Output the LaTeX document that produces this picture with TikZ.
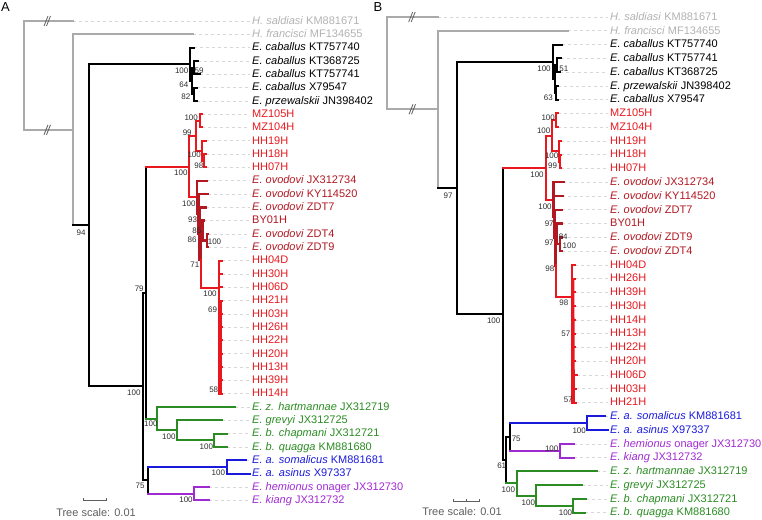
\documentclass[tikz,border=0pt]{standalone}
\usepackage{fontspec}
\setmainfont{Liberation Sans}
\usetikzlibrary{calc}
\definecolor{hipgray}{RGB}{170,170,170}
\definecolor{hiptext}{RGB}{178,178,178}
\definecolor{redclade}{RGB}{232,24,30}
\definecolor{ovored}{RGB}{178,24,34}
\definecolor{greenclade}{RGB}{42,140,34}
\definecolor{blueclade}{RGB}{26,26,220}
\definecolor{purpclade}{RGB}{160,42,210}
\definecolor{leadgray}{RGB}{215,215,215}
\definecolor{bootgray}{RGB}{45,45,45}
\definecolor{scalegray}{RGB}{95,95,95}
\tikzset{
  br/.style={line width=2pt,line cap=rect},
  hipbr/.style={draw=hipgray},
  cabbr/.style={draw=black},
  hhbr/.style={draw=redclade},
  ovobr/.style={draw=ovored,line width=2.4pt},
  zebbr/.style={draw=greenclade},
  assbr/.style={draw=blueclade},
  kiabr/.style={draw=purpclade},
  tip/.style={anchor=west,inner xsep=2pt,inner ysep=0pt,font=\fontsize{11}{11}\selectfont,text height=8pt,text depth=1.5pt},
  leader/.style={draw=leadgray,dash pattern=on 3pt off 3pt,line width=0.6pt},
  boot/.style={font=\fontsize{8}{8}\selectfont,text=bootgray,inner sep=0pt},
  brk/.style={draw=scalegray,line width=0.8pt},
  letter/.style={font=\fontsize{13}{13}\selectfont,inner sep=0pt}
}
\begin{document}
\begin{tikzpicture}[x=1pt,y=-1pt]
\useasboundingbox (0,0) rectangle (762,519);
%panel letters
\node[letter] (a-letter) at (5.5,7.5) {A};
\node[letter] (b-letter) at (378,7.5) {B};

%panel A tips
\foreach \i/\x/\col/\lab in {
  0/73/hiptext/{\textit{H. saldiasi} KM881671},
  1/193/hiptext/{\textit{H. francisci} MF134655},
  2/194/black/{\textit{E. caballus} KT757740},
  3/198/black/{\textit{E. caballus} KT368725},
  4/200/black/{\textit{E. caballus} KT757741},
  5/197/black/{\textit{E. caballus} X79547},
  6/197/black/{\textit{E. przewalskii} JN398402},
  7/202/redclade/MZ105H,
  8/202/redclade/MZ104H,
  9/206/redclade/HH19H,
  10/206/redclade/HH18H,
  11/206/redclade/HH07H,
  12/206.7/ovored/{\textit{E. ovodovi} JX312734},
  13/207.7/ovored/{\textit{E. ovodovi} KY114520},
  14/206/ovored/{\textit{E. ovodovi} ZDT7},
  15/204/ovored/BY01H,
  16/208/ovored/{\textit{E. ovodovi} ZDT4},
  17/208/ovored/{\textit{E. ovodovi} ZDT9},
  18/222/redclade/HH04D,
  19/222/redclade/HH30H,
  20/222/redclade/HH06D,
  21/222/redclade/HH21H,
  22/222/redclade/HH03H,
  23/222/redclade/HH26H,
  24/222/redclade/HH22H,
  25/222/redclade/HH20H,
  26/222/redclade/HH13H,
  27/222/redclade/HH39H,
  28/222/redclade/HH14H,
  29/235/greenclade/{\textit{E. z. hartmannae} JX312719},
  30/222/greenclade/{\textit{E. grevyi} JX312725},
  31/226.7/greenclade/{\textit{E. b. chapmani} JX312721},
  32/226.7/greenclade/{\textit{E. b. quagga} KM881680},
  33/245.7/blueclade/{\textit{E. a. somalicus} KM881681},
  34/250/blueclade/{\textit{E. a. asinus} X97337},
  35/209.3/purpclade/{\textit{E. hemionus} onager JX312730},
  36/209.3/purpclade/{\textit{E. kiang} JX312732}}{
  \coordinate (a-e\i) at (\x,{21+13.31*\i});
  \node[tip,text=\col] (a-t\i) at (250,{21+13.31*\i}) {\lab};
  \draw[leader] (a-e\i) -- (a-t\i.west);
}

%panel A inner nodes
\coordinate (a-root) at (24,75.4);
\coordinate (a-hip) at (73,129.8);
\coordinate (a-equ) at (89,225.3);
\coordinate (a-cab) at (190,64.25);
\coordinate (a-cabx) at (191.5,80.9);
\coordinate (a-cab1) at (193.5,67.55);
\coordinate (a-cab2) at (193.5,94.25);
\coordinate (a-n3) at (143,386.4);
\coordinate (a-n4) at (145.7,292.6);
\coordinate (a-n5) at (147.7,480.2);
\coordinate (a-red) at (189.3,166.5);
\coordinate (a-a1) at (195.7,135.85);
\coordinate (a-mz) at (200,120.85);
\coordinate (a-h1) at (202.3,150.8);
\coordinate (a-h2) at (204,160.75);
\coordinate (a-o0) at (197,197.2);
\coordinate (a-o1) at (198.5,213.7);
\coordinate (a-o2) at (199.5,233.4);
\coordinate (a-o3) at (201,259.5);
\coordinate (a-o4) at (202.5,230.7);
\coordinate (a-o5) at (206.7,240.65);
\coordinate (a-hh) at (219,288.3);
\coordinate (a-g0) at (157,418.7);
\coordinate (a-g1) at (176.7,430.3);
\coordinate (a-g2) at (214.3,440.25);
\coordinate (a-bl) at (226.7,466.85);
\coordinate (a-pu) at (194.3,493.55);

%panel A branches
\foreach \p/\ch/\pc/\cc in {
  a-root/a-e0/hipbr/hipbr, a-root/a-hip/hipbr/hipbr,
  a-hip/a-e1/hipbr/hipbr, a-hip/a-equ/hipbr/cabbr,
  a-equ/a-cab/cabbr/cabbr, a-equ/a-n3/cabbr/cabbr,
  a-cab/a-e2/cabbr/cabbr, a-cab/a-cabx/cabbr/cabbr,
  a-cabx/a-cab1/cabbr/cabbr, a-cabx/a-cab2/cabbr/cabbr,
  a-cab1/a-e3/cabbr/cabbr, a-cab1/a-e4/cabbr/cabbr,
  a-cab2/a-e5/cabbr/cabbr, a-cab2/a-e6/cabbr/cabbr,
  a-n3/a-n4/cabbr/cabbr, a-n3/a-n5/cabbr/cabbr,
  a-n4/a-red/cabbr/hhbr, a-n4/a-g0/cabbr/zebbr,
  a-n5/a-bl/cabbr/assbr, a-n5/a-pu/cabbr/kiabr,
  a-red/a-a1/hhbr/hhbr, a-red/a-o0/hhbr/hhbr,
  a-a1/a-mz/hhbr/hhbr, a-a1/a-h1/hhbr/hhbr,
  a-mz/a-e7/hhbr/hhbr, a-mz/a-e8/hhbr/hhbr,
  a-h1/a-e9/hhbr/hhbr, a-h1/a-h2/hhbr/hhbr,
  a-h2/a-e10/hhbr/hhbr, a-h2/a-e11/hhbr/hhbr,
  a-o0/a-e12/ovobr/ovobr, a-o0/a-o1/ovobr/ovobr,
  a-o1/a-e13/ovobr/ovobr, a-o1/a-o2/ovobr/ovobr,
  a-o2/a-e14/ovobr/ovobr, a-o2/a-o3/ovobr/ovobr,
  a-o3/a-o4/ovobr/ovobr, a-o3/a-hh/hhbr/hhbr,
  a-o4/a-e15/ovobr/ovobr, a-o4/a-o5/ovobr/ovobr,
  a-o5/a-e16/ovobr/ovobr, a-o5/a-e17/ovobr/ovobr,
  a-g0/a-e29/zebbr/zebbr, a-g0/a-g1/zebbr/zebbr,
  a-g1/a-e30/zebbr/zebbr, a-g1/a-g2/zebbr/zebbr,
  a-g2/a-e31/zebbr/zebbr, a-g2/a-e32/zebbr/zebbr,
  a-bl/a-e33/assbr/assbr, a-bl/a-e34/assbr/assbr,
  a-pu/a-e35/kiabr/kiabr, a-pu/a-e36/kiabr/kiabr}{
  \draw[br,\pc] (\p) -- (\p |- \ch);
  \draw[br,\cc] (\p |- \ch) -- (\ch);
}
\foreach \k in {18,...,28}
  \draw[br,hhbr] (a-hh) |- (a-e\k);
\draw[hhbr,line width=2.8pt] ($(a-hh |- a-e21)+(1.2,0)$) -- ($(a-hh |- a-e28)+(1.2,0)$);

%breaks A
\coordinate (a-brk1) at (47,21);
\coordinate (a-brk2) at (47,129.8);
\foreach \b in {a-brk1,a-brk2}{
  \draw[brk] ([shift={(-3,5)}]\b) -- ++(4,-10);
  \draw[brk] ([shift={(-0.5,5)}]\b) -- ++(4,-10);
}

%bootstrap A
\foreach \x/\y/\v [count=\k] in {
  81/233/94, 181.7/70.7/100, 199/70.7/59, 183.8/85/64, 185.8/96.7/82,
  191.2/117.7/100, 187.2/132.3/99, 194.2/155/100, 198.8/165.7/98,
  180.8/172.7/100, 188.8/203.3/100, 192.5/220/93, 196.8/231/85,
  192/239.5/86, 214.5/241.7/100, 194.8/264.3/71, 139.2/289/79,
  210/294/100, 212.5/310/69, 213.7/390/58, 133.8/392.3/100,
  150.8/424/100, 168.8/436.7/100, 206.3/446.7/100, 218.3/472.7/100,
  140/485.7/75, 186/499.3/100}
  \node[boot] (a-bs\k) at (\x,\y) {\v};

%scale A
\coordinate (a-sc-l) at (83.3,500.7);
\coordinate (a-sc-r) at (106.7,500.7);
\draw[draw=scalegray,line width=0.9pt] ([yshift=2.5pt]a-sc-l) -- (a-sc-l) -- (a-sc-r) -- ([yshift=2.5pt]a-sc-r);
\node[text=scalegray,font=\fontsize{11}{11}\selectfont,inner sep=0pt] (a-scale) at (96,512.7) {Tree scale: 0.01};

%panel B tips
\foreach \i/\x/\col/\lab in {
  0/438.3/hiptext/{\textit{H. saldiasi} KM881671},
  1/567.7/hiptext/{\textit{H. francisci} MF134655},
  2/562/black/{\textit{E. caballus} KT757740},
  3/561/black/{\textit{E. caballus} KT757741},
  4/560/black/{\textit{E. caballus} KT368725},
  5/558/black/{\textit{E. przewalskii} JN398402},
  6/558/black/{\textit{E. caballus} X79547},
  7/558/redclade/MZ105H,
  8/558/redclade/MZ104H,
  9/561/redclade/HH19H,
  10/561/redclade/HH18H,
  11/561/redclade/HH07H,
  12/563.3/ovored/{\textit{E. ovodovi} JX312734},
  13/562.3/ovored/{\textit{E. ovodovi} KY114520},
  14/561.7/ovored/{\textit{E. ovodovi} ZDT7},
  15/561.7/ovored/BY01H,
  16/562/ovored/{\textit{E. ovodovi} ZDT9},
  17/562/ovored/{\textit{E. ovodovi} ZDT4},
  18/575/redclade/HH04D,
  19/575/redclade/HH26H,
  20/575/redclade/HH39H,
  21/575/redclade/HH30H,
  22/575/redclade/HH14H,
  23/575/redclade/HH13H,
  24/575/redclade/HH22H,
  25/575/redclade/HH20H,
  26/577/redclade/HH06D,
  27/576/redclade/HH03H,
  28/576/redclade/HH21H,
  29/605/blueclade/{\textit{E. a. somalicus} KM881681},
  30/607.7/blueclade/{\textit{E. a. asinus} X97337},
  31/574.3/purpclade/{\textit{E. hemionus} onager JX312730},
  32/574.3/purpclade/{\textit{E. kiang} JX312732},
  33/597.3/greenclade/{\textit{E. z. hartmannae} JX312719},
  34/581.7/greenclade/{\textit{E. grevyi} JX312725},
  35/586/greenclade/{\textit{E. b. chapmani} JX312721},
  36/585/greenclade/{\textit{E. b. quagga} KM881680}}{
  \coordinate (b-e\i) at (\x,{17+13.77*\i});
  \node[tip,text=\col] (b-t\i) at (608,{17+13.77*\i}) {\lab};
  \draw[leader] (b-e\i) -- (b-t\i.west);
}

%panel B inner nodes
\coordinate (b-root) at (387.3,63.15);
\coordinate (b-hip) at (438.3,109.3);
\coordinate (b-equ) at (457.3,187.85);
\coordinate (b-cab) at (553.3,61.75);
\coordinate (b-cabx) at (555,79);
\coordinate (b-cab1) at (556.7,65.2);
\coordinate (b-cab2) at (555.7,92.75);
\coordinate (b-n3) at (502.7,313.95);
\coordinate (b-red) at (545.7,167.7);
\coordinate (b-a1) at (551.7,135.8);
\coordinate (b-mz) at (556,120.3);
\coordinate (b-h1) at (558.5,151.25);
\coordinate (b-h2) at (559.5,161.6);
\coordinate (b-o0) at (553.3,199.5);
\coordinate (b-o1) at (554,216.8);
\coordinate (b-o2) at (555,237.6);
\coordinate (b-o3) at (556,265.3);
\coordinate (b-o4) at (557,233.9);
\coordinate (b-o5) at (560,244.2);
\coordinate (b-hh) at (571.7,296.7);
\coordinate (b-n61) at (506,460.2);
\coordinate (b-bp) at (510,437);
\coordinate (b-bl) at (586.7,423.2);
\coordinate (b-pu) at (560,450.75);
\coordinate (b-g0) at (516.7,483.45);
\coordinate (b-g1) at (536,495.5);
\coordinate (b-g2) at (573.3,505.85);

%panel B branches
\foreach \p/\ch/\pc/\cc in {
  b-root/b-e0/hipbr/hipbr, b-root/b-hip/hipbr/hipbr,
  b-hip/b-e1/hipbr/hipbr, b-hip/b-equ/hipbr/cabbr,
  b-equ/b-cab/cabbr/cabbr, b-equ/b-n3/cabbr/cabbr,
  b-cab/b-e2/cabbr/cabbr, b-cab/b-cabx/cabbr/cabbr,
  b-cabx/b-cab1/cabbr/cabbr, b-cabx/b-cab2/cabbr/cabbr,
  b-cab1/b-e3/cabbr/cabbr, b-cab1/b-e4/cabbr/cabbr,
  b-cab2/b-e5/cabbr/cabbr, b-cab2/b-e6/cabbr/cabbr,
  b-n3/b-red/cabbr/hhbr, b-n3/b-n61/cabbr/cabbr,
  b-n61/b-bp/cabbr/cabbr, b-n61/b-g0/cabbr/zebbr,
  b-bp/b-bl/cabbr/assbr, b-bp/b-pu/cabbr/kiabr,
  b-red/b-a1/hhbr/hhbr, b-red/b-o0/hhbr/hhbr,
  b-a1/b-mz/hhbr/hhbr, b-a1/b-h1/hhbr/hhbr,
  b-mz/b-e7/hhbr/hhbr, b-mz/b-e8/hhbr/hhbr,
  b-h1/b-e9/hhbr/hhbr, b-h1/b-h2/hhbr/hhbr,
  b-h2/b-e10/hhbr/hhbr, b-h2/b-e11/hhbr/hhbr,
  b-o0/b-e12/ovobr/ovobr, b-o0/b-o1/ovobr/ovobr,
  b-o1/b-e13/ovobr/ovobr, b-o1/b-o2/ovobr/ovobr,
  b-o2/b-e14/ovobr/ovobr, b-o2/b-o3/ovobr/ovobr,
  b-o3/b-o4/ovobr/ovobr, b-o3/b-hh/hhbr/hhbr,
  b-o4/b-e15/ovobr/ovobr, b-o4/b-o5/ovobr/ovobr,
  b-o5/b-e16/ovobr/ovobr, b-o5/b-e17/ovobr/ovobr,
  b-bl/b-e29/assbr/assbr, b-bl/b-e30/assbr/assbr,
  b-pu/b-e31/kiabr/kiabr, b-pu/b-e32/kiabr/kiabr,
  b-g0/b-e33/zebbr/zebbr, b-g0/b-g1/zebbr/zebbr,
  b-g1/b-e34/zebbr/zebbr, b-g1/b-g2/zebbr/zebbr,
  b-g2/b-e35/zebbr/zebbr, b-g2/b-e36/zebbr/zebbr}{
  \draw[br,\pc] (\p) -- (\p |- \ch);
  \draw[br,\cc] (\p |- \ch) -- (\ch);
}
\foreach \k in {18,...,28}
  \draw[br,hhbr] (b-hh) |- (b-e\k);
\draw[hhbr,line width=2.8pt] ($(b-hh |- b-e19)+(1.2,0)$) -- ($(b-hh |- b-e28)+(1.8,0)$);

%breaks B
\coordinate (b-brk1) at (411.7,17);
\coordinate (b-brk2) at (412,109.3);
\foreach \b in {b-brk1,b-brk2}{
  \draw[brk] ([shift={(-3,5)}]\b) -- ++(4,-10);
  \draw[brk] ([shift={(-0.5,5)}]\b) -- ++(4,-10);
}

%bootstrap B
\foreach \x/\y/\v [count=\k] in {
  448/196/97, 544/69/100, 563.8/68.3/51, 548.3/97.3/63,
  548.2/117.3/100, 543.7/131/100, 551.7/155.7/100, 552.5/165.7/99,
  537/174.3/100, 545/206.7/100, 549.2/223.3/97, 563.2/236.7/84,
  549.2/242.7/97, 569.3/245.7/100, 549.8/269/98, 563.8/302.3/98,
  493.7/320.7/100, 565.8/333.3/57, 568.2/400/57, 516.2/438.3/75,
  579.2/430.7/100, 551.7/448.3/100, 501.7/466/61, 508.3/490/100,
  528.3/502.7/100, 565.5/512.7/100}
  \node[boot] (b-bs\k) at (\x,\y) {\v};

%scale B
\coordinate (b-sc-l) at (453.3,501.7);
\coordinate (b-sc-m) at (466.3,501.7);
\coordinate (b-sc-r) at (479.3,501.7);
\draw[draw=scalegray,line width=0.9pt] ([yshift=2.5pt]b-sc-l) -- (b-sc-l) -- (b-sc-r) -- ([yshift=2.5pt]b-sc-r);
\draw[draw=scalegray,line width=0.9pt] (b-sc-m) -- ([yshift=2.5pt]b-sc-m);
\node[text=scalegray,font=\fontsize{11}{11}\selectfont,inner sep=0pt] (b-scale) at (462,511.7) {Tree scale: 0.01};
\end{tikzpicture}
\end{document}
